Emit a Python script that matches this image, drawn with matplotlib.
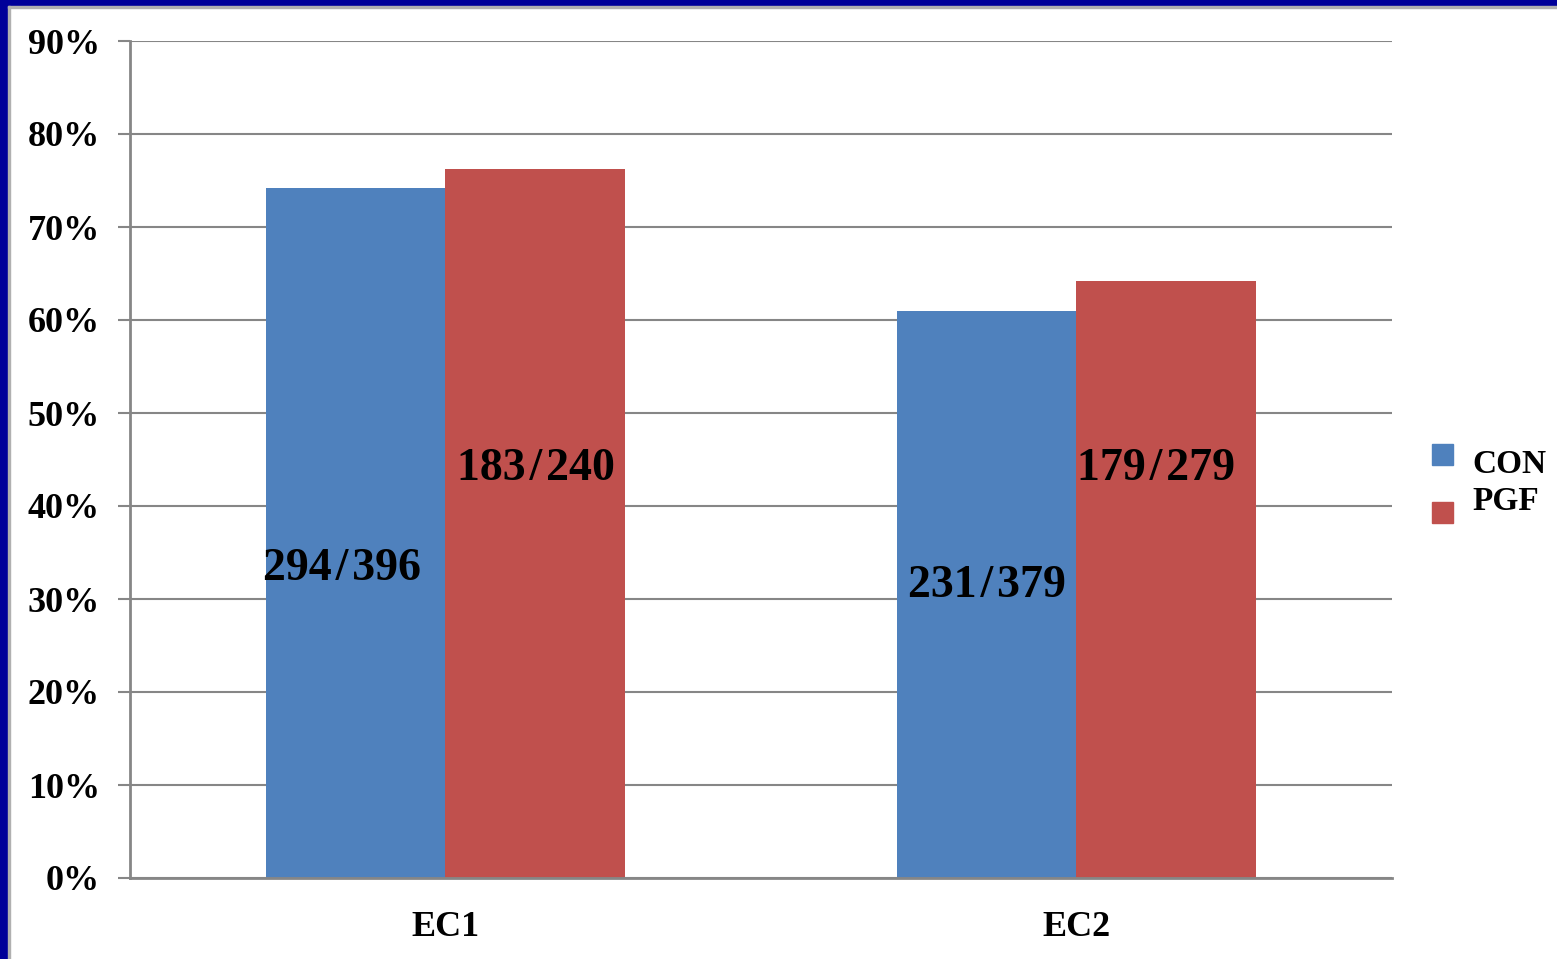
import matplotlib
matplotlib.use("Agg")
import matplotlib.pyplot as plt
from matplotlib.patches import Rectangle
import numpy as np

# datos
categories = ["EC1", "EC2"]
series_names = ["CON", "PGF"]
con_values = [294 / 396, 231 / 379]
pgf_values = [183 / 240, 179 / 279]
con_labels = ["294\u200a/\u200a396", "231\u200a/\u200a379"]
pgf_labels = ["183\u200a/\u200a240", "179\u200a/\u200a279"]
con_label_y = [0.332, 0.314]
pgf_label_y = [0.440, 0.440]
# desplazamiento horizontal de las etiquetas respecto al centro de la barra
con_label_dx = [-0.021, 0.0]
pgf_label_dx = [0.001, -0.016]
yticks = [0, 0.1, 0.2, 0.3, 0.4, 0.5, 0.6, 0.7, 0.8, 0.9]

blue = "#4F81BD"
red = "#C0504D"
grey = "#868686"

plt.rcParams["font.family"] = ["Liberation Serif", "DejaVu Serif"]
plt.rcParams["font.weight"] = "bold"

W, H = 1557, 959
fig = plt.figure(figsize=(W / 100, H / 100), dpi=100)
fig.patch.set_facecolor("white")

# marco azul
fig.add_artist(Rectangle((0, 0), 8 / W, 1, transform=fig.transFigure, color="#000099", zorder=10))
fig.add_artist(Rectangle((0, 1 - 6 / H), 1, 6 / H, transform=fig.transFigure, color="#000099", zorder=10))
fig.add_artist(Rectangle((8 / W, 1 - 8 / H), 1, 2 / H, transform=fig.transFigure, color="#b0b0b0", zorder=10))
fig.add_artist(Rectangle((8 / W, 0), 2 / W, 1 - 6 / H, transform=fig.transFigure, color="#b0b0b0", zorder=10))

ax = fig.add_axes([130 / W, 1 - 878 / H, (1392 - 130) / W, (878 - 41) / H])

x = np.arange(len(categories))
width = 0.285
off = 0.1425
ax.bar(x - off, con_values, width, color=blue, zorder=3)
ax.bar(x + off, pgf_values, width, color=red, zorder=3)

for i in range(len(categories)):
    ax.text(x[i] - off + con_label_dx[i], con_label_y[i], con_labels[i], ha="center", va="center",
            fontsize=33, fontweight="bold", zorder=5)
    ax.text(x[i] + off + pgf_label_dx[i], pgf_label_y[i], pgf_labels[i], ha="center", va="center",
            fontsize=33, fontweight="bold", zorder=5)

ax.set_xlim(-0.5, 1.5)
ax.set_ylim(0, 0.9)
ax.set_yticks(yticks)
ax.set_yticklabels([f"{int(round(v * 100))}%" for v in yticks], fontsize=26, fontweight="bold")
ax.set_xticks(x)
ax.set_xticklabels(categories, fontsize=26, fontweight="bold")
ax.tick_params(axis="x", length=0, pad=24)
ax.tick_params(axis="y", length=8.6, width=1.5, color=grey, pad=13)

ax.yaxis.grid(True, color=grey, linewidth=1.5, zorder=0)
ax.set_axisbelow(True)
for s in ["top", "right"]:
    ax.spines[s].set_visible(False)
for s in ["left", "bottom"]:
    ax.spines[s].set_color(grey)
    ax.spines[s].set_linewidth(2)
ax.spines["bottom"].set_zorder(4)

# leyenda
fig.add_artist(Rectangle((1432 / W, 1 - 465 / H), 21 / W, 21 / H, transform=fig.transFigure, color=blue))
fig.add_artist(Rectangle((1432 / W, 1 - 523 / H), 21 / W, 21 / H, transform=fig.transFigure, color=red))
fig.text(1472 / W, 1 - 464 / H, series_names[0], fontsize=24, fontweight="bold", va="center", ha="left")
fig.text(1472 / W, 1 - 502 / H, series_names[1], fontsize=24, fontweight="bold", va="center", ha="left")

fig.savefig("out.png", dpi=100)
